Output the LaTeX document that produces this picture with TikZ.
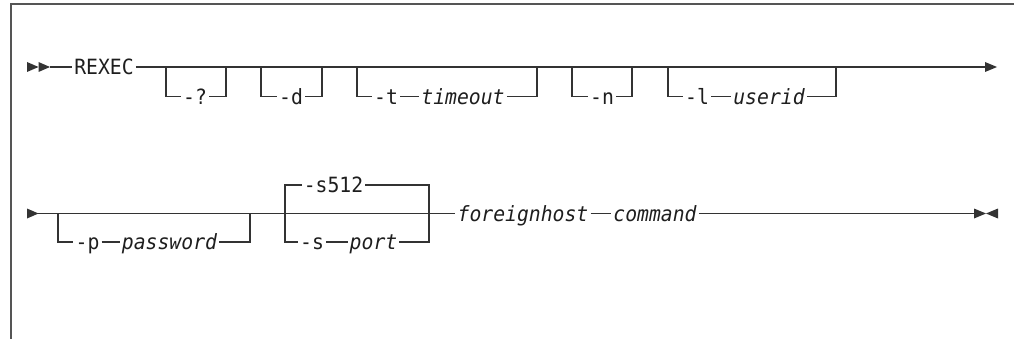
\documentclass[tikz,border=0pt]{standalone}
\usepackage{fontspec}
\setmonofont[FakeStretch=0.94]{DejaVu Sans Mono}
\newcommand{\synfont}{\fontsize{21}{21}\selectfont\ttfamily}
\definecolor{railc}{HTML}{333333}
\definecolor{framec}{HTML}{555555}
\definecolor{textc}{HTML}{1E1E1E}
\begin{document}
\begin{tikzpicture}[x=1pt,y=-1pt,line width=1.3pt,
  lbl/.style={font=\synfont,text=textc,text height=15pt,text depth=0pt,inner ysep=0pt,inner xsep=1.5pt},
  var/.style={lbl,font=\synfont\itshape},
  rail/.style={draw=railc},
  tipfill/.style={fill=railc,draw=none},
  framestyle/.style={draw=framec,line width=1.5pt}]
\useasboundingbox (0,0) rectangle (1014,339);
% frame
\coordinate (fb) at (10.8,339);
\coordinate (fc) at (10.8,4);
\coordinate (fr) at (1014,4);
\draw[framestyle] (fb) -- (fc) -- (fr);

% ---------- row 1 ----------
\fill[tipfill] (27,62) -- (38.5,67) -- (27,72) -- cycle;
\fill[tipfill] (38.5,62) -- (50,67) -- (38.5,72) -- cycle;
\coordinate (s1) at (50,67);
\node[lbl] (rexec) at (104,67) {REXEC};
\coordinate (e1) at (985,67);
\draw[rail] (s1) -- (rexec.west);
\draw[rail] (rexec.east) -- (e1);
\fill[tipfill] (985,62) -- (997,67) -- (985,72) -- cycle;

% -?
\node[lbl] (q) at (195,96.7) {-?};
\coordinate (qL) at (166,67);
\coordinate (qR) at (226,67);
\draw[rail] (qL) |- (q.west);
\draw[rail] (q.east) -| (qR);
% -d
\node[lbl] (d) at (291,96.7) {-d};
\coordinate (dL) at (261,67);
\coordinate (dR) at (322,67);
\draw[rail] (dL) |- (d.west);
\draw[rail] (d.east) -| (dR);
% -t timeout
\node[lbl] (t) at (386,96.7) {-t};
\node[var] (tmo) at (463,96.7) {timeout};
\coordinate (tL) at (357,67);
\coordinate (tR) at (537,67);
\draw[rail] (tL) |- (t.west);
\draw[rail] (t.east) -- (tmo.west);
\draw[rail] (tmo.east) -| (tR);
% -n
\node[lbl] (n) at (602,96.7) {-n};
\coordinate (nL) at (572,67);
\coordinate (nR) at (632,67);
\draw[rail] (nL) |- (n.west);
\draw[rail] (n.east) -| (nR);
% -l userid
\node[lbl] (l) at (697,96.7) {-l};
\node[var] (uid) at (769,96.7) {userid};
\coordinate (lL) at (668,67);
\coordinate (lR) at (836,67);
\draw[rail] (lL) |- (l.west);
\draw[rail] (l.east) -- (uid.west);
\draw[rail] (uid.east) -| (lR);

% ---------- row 2 ----------
\fill[tipfill] (27,208.5) -- (38.5,213.5) -- (27,218.5) -- cycle;
\coordinate (s2) at (38,213.5);
\node[var] (fh) at (523,213.5) {foreignhost};
\node[var] (cmd) at (655,213.5) {command};
\coordinate (e2) at (974,213.5);
\draw[rail] (s2) -- (fh.west);
\draw[rail] (fh.east) -- (cmd.west);
\draw[rail] (cmd.east) -- (e2);
\fill[tipfill] (974,208.5) -- (986,213.5) -- (974,218.5) -- cycle;
\fill[tipfill] (998,208.5) -- (986,213.5) -- (998,218.5) -- cycle;

% -p password
\node[lbl] (p) at (87.5,242) {-p};
\node[var] (pw) at (169.5,242) {password};
\coordinate (pL) at (58,213.5);
\coordinate (pR) at (250,213.5);
\draw[rail] (pL) |- (p.west);
\draw[rail] (p.east) -- (pw.west);
\draw[rail] (pw.east) -| (pR);

% -s512 / -s port
\node[lbl] (s512) at (333.5,185) {-s512};
\node[lbl] (s) at (312,242) {-s};
\node[var] (port) at (373.5,242) {port};
\coordinate (sL) at (285,213.5);
\coordinate (sR) at (429,213.5);
\draw[rail] (s512.west) -| (sL) |- (s.west);
\draw[rail] (s512.east) -| (sR) |- (port.east);
\draw[rail] (s.east) -- (port.west);
\end{tikzpicture}
\end{document}
